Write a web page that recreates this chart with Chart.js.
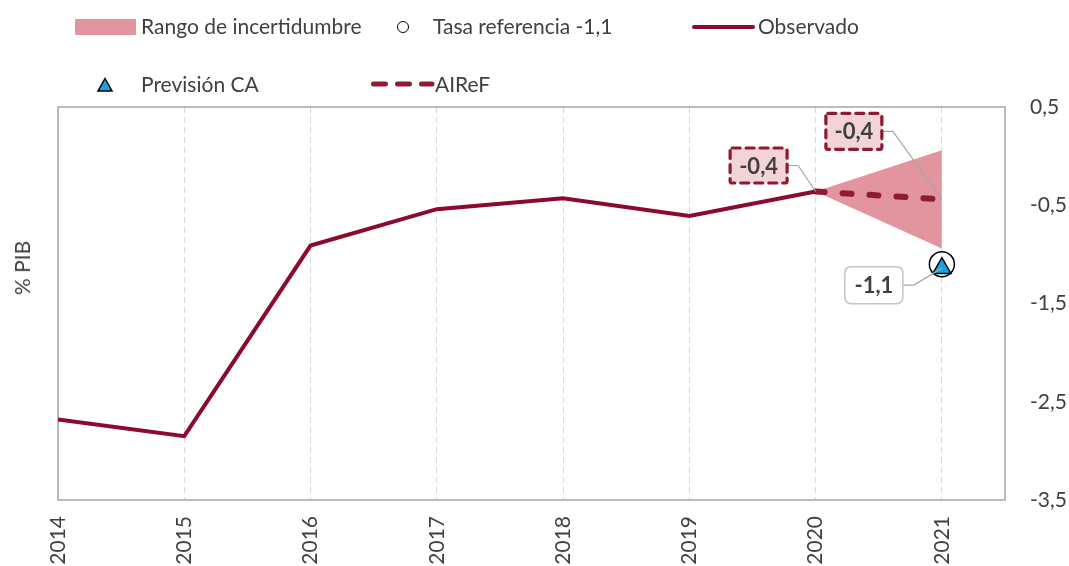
<!DOCTYPE html>
<html><head><meta charset="utf-8">
<script src="https://cdn.jsdelivr.net/npm/chart.js@4/dist/chart.umd.min.js"></script>
<style>
html,body{margin:0;padding:0;background:#fff;}
#wrap{position:relative;width:1069px;height:566px;overflow:hidden;font-family:Lato,sans-serif;color:#404040;}
#c{position:absolute;left:0;top:0;}
.lg{position:absolute;font-size:21px;line-height:24px;white-space:nowrap;}
.abs{position:absolute;}
#ytitle{position:absolute;left:22px;top:268px;font-size:21px;line-height:24px;white-space:nowrap;transform:translate(-50%,-50%) rotate(-90deg);}
</style></head>
<body><div id="wrap">
<canvas id="c" width="1069" height="566"></canvas>
<div class="abs" style="left:75px;top:19px;width:61px;height:16px;background:#e3959f;border-radius:1px;"></div>
<div class="lg" style="left:141px;top:14px;">Rango de incertidumbre</div>
<div class="abs" style="left:397px;top:21px;width:12px;height:12px;box-sizing:border-box;border:1.5px solid #000;border-radius:50%;background:#fff;"></div>
<div class="lg" style="left:433px;top:14px;">Tasa referencia -1,1</div>
<div class="abs" style="left:692px;top:25px;width:63px;height:4px;background:#8b0a2e;border-radius:2px;"></div>
<div class="lg" style="left:758px;top:14px;">Observado</div>
<svg class="abs" style="left:95px;top:75px;" width="20" height="20"><polygon points="10,3.5 17,16 3,16" fill="#18a4e0" stroke="#000" stroke-width="1.5"/></svg>
<div class="lg" style="left:141px;top:72px;">Previsión CA</div>
<svg class="abs" style="left:368px;top:78px;" width="70" height="12"><line x1="5.5" y1="6" x2="64" y2="6" stroke="#8d1b35" stroke-width="5" stroke-linecap="round" stroke-dasharray="12 12"/></svg>
<div class="lg" style="left:435px;top:72px;">AIReF</div>
<div id="ytitle">% PIB</div>
</div>
<script>
// ---- data ----
const years = [2014, 2015, 2016, 2017, 2018, 2019, 2020, 2021];
const observed = [-2.68, -2.85, -0.91, -0.54, -0.43, -0.61, -0.36, null];
const airef = [null, null, null, null, null, null, -0.36, -0.44];
const rangeUpper = [null, null, null, null, null, null, -0.36, 0.06];
const rangeLower = [null, null, null, null, null, null, -0.36, -0.94];
const referenceRate = [null, null, null, null, null, null, null, -1.10];
const caForecast = [null, null, null, null, null, null, null, -1.14];
const yTicks = [0.5, -0.5, -1.5, -2.5, -3.5];

const fmt = v => v.toFixed(1).replace('.', ',');
const pts = arr => years.map((x, i) => ({x: x, y: arr[i]}));

Chart.defaults.font.family = 'Lato, sans-serif';
Chart.defaults.font.size = 21;
Chart.defaults.color = '#404040';

const callouts = [
  {ds: 3, i: 6, dx: -57, dy: -26, w: 57, h: 35, style: 'dashed'},
  {ds: 3, i: 7, dx: -88, dy: -68, w: 56, h: 36, style: 'dashed'},
  {ds: 0, i: 7, dx: -68, dy: 17, w: 58, h: 37, style: 'plain'}
];

const annot = {
  id: 'annot',
  beforeDatasetsDraw(chart) {
    const {ctx, chartArea: a} = chart;
    ctx.save();
    ctx.strokeStyle = '#a6a6a6';
    ctx.lineWidth = 1.5;
    ctx.strokeRect(a.left, a.top, a.right - a.left, a.bottom - a.top);
    ctx.restore();
  },
  afterDatasetsDraw(chart) {
    const {ctx} = chart;
    callouts.forEach(c => {
      const el = chart.getDatasetMeta(c.ds).data[c.i];
      const val = chart.data.datasets[c.ds].data[c.i].y;
      const px = el.x, py = el.y;
      const bx = px + c.dx, by = py + c.dy;
      ctx.save();
      ctx.strokeStyle = '#a6a6a6';
      ctx.lineWidth = 1.2;
      ctx.beginPath();
      ctx.moveTo(bx + c.w / 2, by);
      ctx.lineTo(bx + c.w / 2 + 11, by);
      ctx.lineTo(px, py);
      ctx.stroke();
      if (c.style === 'dashed') {
        ctx.fillStyle = '#f2d3d6';
        ctx.beginPath();
        ctx.roundRect(bx - c.w / 2, by - c.h / 2, c.w, c.h, 2);
        ctx.fill();
        ctx.strokeStyle = '#8b1a32';
        ctx.lineWidth = 3.2;
        ctx.lineCap = 'round';
        ctx.setLineDash([8, 6]);
        ctx.stroke();
        ctx.setLineDash([]);
      } else {
        ctx.fillStyle = '#ffffff';
        ctx.strokeStyle = '#c4c4c4';
        ctx.lineWidth = 1.5;
        ctx.beginPath();
        ctx.roundRect(bx - c.w / 2, by - c.h / 2, c.w, c.h, 6);
        ctx.fill();
        ctx.stroke();
      }
      ctx.fillStyle = '#404040';
      ctx.font = 'bold 22px Lato, sans-serif';
      ctx.textAlign = 'center';
      ctx.textBaseline = 'middle';
      ctx.fillText(fmt(val), bx, by + 1);
      ctx.restore();
    });
  }
};

new Chart(document.getElementById('c'), {
  type: 'line',
  data: {
    datasets: [
      {label: 'Previsión CA', data: pts(caForecast), yAxisID: 'y', showLine: false,
       pointStyle: 'triangle', pointRadius: 10.5, backgroundColor: '#18a4e0', borderColor: '#000', pointBorderWidth: 1.5},
      {label: 'Tasa referencia -1,1', data: pts(referenceRate), yAxisID: 'y', showLine: false,
       pointStyle: 'circle', pointRadius: 12.5, backgroundColor: '#ffffff', borderColor: '#000', pointBorderWidth: 1.5},
      {label: 'Observado', data: pts(observed), yAxisID: 'y', borderColor: '#8b0a2e', borderWidth: 4,
       pointRadius: 0, fill: false, tension: 0, borderJoinStyle: 'miter'},
      {label: 'AIReF', data: pts(airef), yAxisID: 'y', borderColor: '#8d1b35', borderWidth: 6,
       borderDash: [9, 18], borderCapStyle: 'round', pointRadius: 0, fill: false, tension: 0},
      {label: 'Rango de incertidumbre', data: pts(rangeUpper), yAxisID: 'y', borderWidth: 0, borderColor: 'rgba(0,0,0,0)',
       pointRadius: 0, fill: '+1', backgroundColor: '#e3959f'},
      {label: 'rango inferior', data: pts(rangeLower), yAxisID: 'y', borderWidth: 0, borderColor: 'rgba(0,0,0,0)',
       pointRadius: 0, fill: false}
    ]
  },
  options: {
    responsive: false,
    animation: false,
    layout: {padding: {top: 107, left: 58, right: 0, bottom: 0}},
    plugins: {legend: {display: false}, tooltip: {enabled: false}},
    scales: {
      x: {
        type: 'linear', min: 2014, max: 2021.5,
        afterBuildTicks: s => { s.ticks = years.map(v => ({value: v})); },
        afterFit: s => { s.height = 66; },
        ticks: {autoSkip: false, minRotation: 90, maxRotation: 90, padding: 16,
                callback: v => String(v), color: '#404040', font: {size: 21}},
        grid: {color: '#d9d9d9', lineWidth: 1, drawTicks: false},
        border: {display: false, dash: [6, 4]}
      },
      y: {
        type: 'linear', position: 'right', min: -3.5, max: 0.5,
        afterBuildTicks: s => { s.ticks = yTicks.map(v => ({value: v})); },
        afterFit: s => { s.width = 64; },
        ticks: {padding: 25, callback: v => fmt(v), color: '#404040', font: {size: 21}},
        grid: {display: false, drawTicks: false},
        border: {display: false}
      }
    }
  },
  plugins: [annot]
});
</script>
</body></html>
